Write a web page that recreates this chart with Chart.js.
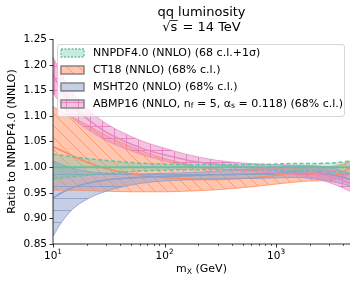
<!DOCTYPE html>
<html><head><meta charset="utf-8">
<script src="https://cdn.jsdelivr.net/npm/chart.js@4.4.1/dist/chart.umd.min.js"></script>
<style>html,body{margin:0;padding:0;background:#fff}#c{display:block}</style>
</head><body>
<canvas id="c" width="357" height="284"></canvas>
<script>
// ---- data ----
const mX = [10, 12, 15, 20, 30, 50, 70, 100, 150, 200, 300, 500, 700, 1000, 1500, 2000, 3000, 4000, 4600];

const nnpdfCentral = [1.000,1.000,1.000,1.000,1.000,1.000,1.000,1.000,1.000,1.000,1.000,1.000,1.000,1.000,1.000,1.000,1.000,1.000,1.000];
const nnpdfUpper   = [1.025,1.023,1.020,1.017,1.013,1.009,1.007,1.006,1.005,1.005,1.005,1.005,1.005,1.006,1.007,1.007,1.008,1.010,1.012];
const nnpdfLower   = [0.977,0.979,0.981,0.984,0.988,0.991,0.993,0.994,0.995,0.995,0.995,0.995,0.995,0.994,0.994,0.993,0.991,0.989,0.988];

const ct18Central = [1.040,1.032,1.022,1.010,0.997,0.987,0.983,0.980,0.977,0.976,0.976,0.978,0.980,0.984,0.987,0.987,0.984,0.990,1.000];
const ct18Upper   = [1.118,1.108,1.097,1.083,1.062,1.040,1.028,1.017,1.007,1.000,0.996,0.994,0.994,0.996,0.999,1.000,1.001,1.006,1.012];
const ct18Lower   = [0.955,0.955,0.955,0.954,0.953,0.952,0.952,0.952,0.953,0.954,0.956,0.960,0.963,0.967,0.971,0.973,0.974,0.980,0.986];

const mshtCentral = [0.940,0.950,0.960,0.968,0.975,0.979,0.981,0.982,0.983,0.984,0.985,0.986,0.987,0.989,0.991,0.990,0.986,0.980,0.976];
const mshtUpper   = [1.012,1.005,0.998,0.992,0.988,0.987,0.987,0.988,0.989,0.990,0.992,0.995,0.997,1.000,1.003,1.003,0.999,0.992,0.988];
const mshtLower   = [0.865,0.893,0.918,0.937,0.953,0.965,0.970,0.973,0.975,0.977,0.978,0.978,0.978,0.979,0.980,0.978,0.973,0.967,0.963];

const abmpCentral = [1.180,1.150,1.120,1.095,1.068,1.045,1.033,1.024,1.015,1.010,1.005,1.000,0.998,0.997,0.994,0.990,0.982,0.974,0.968];
const abmpUpper   = [1.215,1.180,1.145,1.115,1.085,1.060,1.047,1.037,1.026,1.020,1.013,1.008,1.006,1.005,1.003,1.000,0.995,0.987,0.982];
const abmpLower   = [1.145,1.120,1.095,1.075,1.052,1.032,1.021,1.012,1.004,1.000,0.996,0.993,0.991,0.989,0.985,0.980,0.970,0.959,0.953];

const yTicks = [0.85, 0.90, 0.95, 1.00, 1.05, 1.10, 1.15, 1.20, 1.25];
const yTickLabels = ['0.85','0.90','0.95','1.00','1.05','1.10','1.15','1.20','1.25'];
const xMajorTicks = [10, 100, 1000];
const xMajorExp = ['1','2','3'];
const xMin = 10, xMax = 4600, yMin = 0.85, yMax = 1.25;

const titleLine1 = 'qq luminosity';
const legendLabels = ['NNPDF4.0 (NNLO) (68 c.l.+1σ)', 'CT18 (NNLO) (68% c.l.)', 'MSHT20 (NNLO) (68% c.l.)'];

// ---- styling ----
const FONT = '"DejaVu Sans", sans-serif';
const C = { green:'#66c2a5', orange:'#fc8d62', blue:'#8da0cb', pink:'#e78ac3' };

function makePattern(fill, stroke, kind) {
  const s = 12;
  const c = document.createElement('canvas'); c.width = s; c.height = s;
  const g = c.getContext('2d');
  g.fillStyle = fill; g.fillRect(0, 0, s, s);
  if (kind) {
    g.strokeStyle = stroke; g.lineWidth = 0.9;
    g.beginPath();
    if (kind === '\\') {
      g.moveTo(-2, -2); g.lineTo(s + 2, s + 2);
      g.moveTo(s - 2, -2); g.lineTo(s + 2, 2);
      g.moveTo(-2, s - 2); g.lineTo(2, s + 2);
    } else if (kind === '-') {
      g.moveTo(0, s / 2 + 0.5); g.lineTo(s, s / 2 + 0.5);
    } else if (kind === '+') {
      g.moveTo(0, s / 2 + 0.5); g.lineTo(s, s / 2 + 0.5);
      g.moveTo(s / 2 + 0.5, 0); g.lineTo(s / 2 + 0.5, s);
    }
    g.stroke();
  }
  return document.getElementById('c').getContext('2d').createPattern(c, 'repeat');
}

const patGreen  = 'rgba(102,194,165,0.35)';
const patOrange = makePattern('rgba(252,141,98,0.5)', 'rgba(252,141,98,0.85)', '\\');
const patBlue   = makePattern('rgba(141,160,203,0.5)', 'rgba(141,160,203,0.95)', '-');
const patPink   = makePattern('rgba(231,138,195,0.5)', 'rgba(225,120,185,0.9)', '+');

const pts = arr => arr.map((v, i) => ({ x: mX[i], y: v }));
const base = { pointRadius: 0, cubicInterpolationMode: 'monotone', fill: false };

const datasets = [
  // CT18 (index 0..2)
  { ...base, data: pts(ct18Upper), borderColor: C.orange, borderWidth: 0.8, fill: { target: 1 }, backgroundColor: patOrange, order: 40 },
  { ...base, data: pts(ct18Lower), borderColor: C.orange, borderWidth: 0.8, order: 40 },
  { ...base, data: pts(ct18Central), borderColor: C.orange, borderWidth: 1.6, order: 39 },
  // MSHT20 (3..5)
  { ...base, data: pts(mshtUpper), borderColor: C.blue, borderWidth: 0.8, fill: { target: 4 }, backgroundColor: patBlue, order: 30 },
  { ...base, data: pts(mshtLower), borderColor: C.blue, borderWidth: 0.8, order: 30 },
  { ...base, data: pts(mshtCentral), borderColor: C.blue, borderWidth: 1.6, order: 29 },
  // ABMP16 (6..8)
  { ...base, data: pts(abmpUpper), borderColor: C.pink, borderWidth: 0.8, fill: { target: 7 }, backgroundColor: patPink, order: 20 },
  { ...base, data: pts(abmpLower), borderColor: C.pink, borderWidth: 0.8, order: 20 },
  { ...base, data: pts(abmpCentral), borderColor: C.pink, borderWidth: 1.6, order: 19 },
  // NNPDF4.0 (9..11)
  { ...base, data: pts(nnpdfUpper), borderColor: C.green, borderWidth: 1.5, borderDash: [4, 2.5], fill: { target: 10 }, backgroundColor: patGreen, order: 10 },
  { ...base, data: pts(nnpdfLower), borderColor: C.green, borderWidth: 1.5, borderDash: [4, 2.5], order: 10 },
  { ...base, data: pts(nnpdfCentral), borderColor: C.green, borderWidth: 2, order: 9 },
];

function drawRich(ctx, segs, x, y, size) {
  let cx = x;
  for (const s of segs) {
    if (s.sub) {
      ctx.font = (size * 0.7) + 'px ' + FONT;
      ctx.fillText(s.t, cx, y + size * 0.2);
    } else if (s.sup) {
      ctx.font = (size * 0.7) + 'px ' + FONT;
      ctx.fillText(s.t, cx, y - size * 0.42);
    } else {
      ctx.font = size + 'px ' + FONT;
      ctx.fillText(s.t, cx, y);
    }
    cx += ctx.measureText(s.t).width;
  }
  return cx - x;
}
function richWidth(ctx, segs, size) {
  let w = 0;
  for (const s of segs) {
    ctx.font = ((s.sub || s.sup) ? size * 0.7 : size) + 'px ' + FONT;
    w += ctx.measureText(s.t).width;
  }
  return w;
}

const decor = {
  id: 'decor',
  afterDraw(chart) {
    const ctx = chart.ctx;
    const xs = chart.scales.x, ys = chart.scales.y;
    const L = chart.chartArea.left, R = chart.chartArea.right, T = chart.chartArea.top, B = chart.chartArea.bottom;
    ctx.save();
    ctx.fillStyle = '#000'; ctx.strokeStyle = '#000';
    // spines
    ctx.lineWidth = 0.8;
    ctx.beginPath();
    ctx.moveTo(L, T); ctx.lineTo(L, B); ctx.lineTo(R, B);
    ctx.stroke();
    // y ticks
    ctx.textAlign = 'right'; ctx.textBaseline = 'middle';
    ctx.font = '10.5px ' + FONT;
    yTicks.forEach((v, i) => {
      const py = Math.round(ys.getPixelForValue(v)) + 0.5;
      ctx.beginPath(); ctx.moveTo(L - 3.5, py); ctx.lineTo(L, py); ctx.stroke();
      ctx.fillText(yTickLabels[i], L - 6, py);
    });
    // x ticks major + minor
    for (let dec = 1; dec <= 1000; dec *= 10) {
      for (let m = 1; m <= 9; m++) {
        const v = dec * m;
        if (v < xMin || v > xMax) continue;
        const px = Math.round(xs.getPixelForValue(v)) + 0.5;
        const len = m === 1 ? 3.5 : 2;
        ctx.lineWidth = m === 1 ? 0.8 : 0.6;
        ctx.beginPath(); ctx.moveTo(px, B); ctx.lineTo(px, B + len); ctx.stroke();
      }
    }
    ctx.textAlign = 'left'; ctx.textBaseline = 'alphabetic';
    xMajorTicks.forEach((v, i) => {
      const segs = [{ t: '10' }, { t: xMajorExp[i], sup: true }];
      const w = richWidth(ctx, segs, 10.5);
      const px = xs.getPixelForValue(v);
      drawRich(ctx, segs, px - w / 2, B + 14.5, 10.5);
    });
    // x label
    {
      const segs = [{ t: 'm' }, { t: 'X', sub: true }, { t: ' (GeV)' }];
      const w = richWidth(ctx, segs, 11);
      drawRich(ctx, segs, (L + R) / 2 - w / 2, B + 28, 11);
    }
    // y label
    ctx.save();
    ctx.translate(12, (T + B) / 2);
    ctx.rotate(-Math.PI / 2);
    ctx.textAlign = 'center'; ctx.textBaseline = 'middle';
    ctx.font = '11px ' + FONT;
    ctx.fillText('Ratio to NNPDF4.0 (NNLO)', 0, 0);
    ctx.restore();
    // title
    const cx = (L + R) / 2;
    ctx.font = '13px ' + FONT;
    ctx.textAlign = 'center';
    ctx.fillText(titleLine1, cx, 15.5);
    {
      ctx.textAlign = 'left';
      const wR = ctx.measureText('√').width;
      const wS = ctx.measureText('s').width;
      const rest = ' = 14 TeV';
      const wRest = ctx.measureText(rest).width;
      const tot = wR + wS + 1 + wRest;
      let x0 = cx - tot / 2;
      ctx.fillText('√', x0, 30.5);
      ctx.fillText('s', x0 + wR, 30.5);
      ctx.lineWidth = 0.8;
      ctx.beginPath(); ctx.moveTo(x0 + wR - 0.5, 20.5); ctx.lineTo(x0 + wR + wS + 0.5, 20.5); ctx.stroke();
      ctx.fillText(rest, x0 + wR + wS + 1, 30.5);
    }
    // legend
    const lx = 57, ly = 44, lw = 287, lh = 72;
    ctx.beginPath();
    ctx.roundRect(lx + 0.5, ly + 0.5, lw, lh, 2.5);
    ctx.fillStyle = 'rgba(255,255,255,0.8)'; ctx.fill();
    ctx.strokeStyle = '#cccccc'; ctx.lineWidth = 0.8; ctx.stroke();
    const rows = [53, 70, 87, 104];
    const pats = [patGreen, patOrange, patBlue, patPink];
    rows.forEach((ry, i) => {
      const px = 61, pw = 23, ph = 8, py = ry - 4;
      ctx.fillStyle = '#fff'; ctx.fillRect(px, py, pw, ph);
      ctx.fillStyle = pats[i]; ctx.fillRect(px, py, pw, ph);
      ctx.lineWidth = 1.4;
      if (i === 0) {
        ctx.strokeStyle = C.green; ctx.setLineDash([2, 1.5]);
      } else {
        ctx.strokeStyle = '#808080'; ctx.setLineDash([]);
      }
      ctx.strokeRect(px, py, pw, ph);
      ctx.setLineDash([]);
      ctx.fillStyle = '#000';
      ctx.textBaseline = 'middle';
      if (i < 3) {
        ctx.font = '11px ' + FONT;
        ctx.fillText(legendLabels[i], 93, ry);
      } else {
        drawRich(ctx, [{ t: 'ABMP16 (NNLO, n' }, { t: 'f', sub: true }, { t: ' = 5, α' }, { t: 's', sub: true }, { t: ' = 0.118) (68% c.l.)' }], 93, ry, 11);
      }
    });
    ctx.restore();
  }
};

new Chart(document.getElementById('c'), {
  type: 'line',
  data: { datasets },
  options: {
    responsive: false, animation: false, devicePixelRatio: 1,
    layout: { padding: { left: 53, right: 7, top: 39, bottom: 40 } },
    scales: {
      x: { type: 'logarithmic', min: xMin, max: xMax, display: false },
      y: { type: 'linear', min: yMin, max: yMax, display: false }
    },
    plugins: { legend: { display: false }, tooltip: { enabled: false }, title: { display: false }, filler: { drawTime: 'beforeDatasetsDraw' } },
    events: []
  },
  plugins: [decor]
});
</script>
</body></html>
